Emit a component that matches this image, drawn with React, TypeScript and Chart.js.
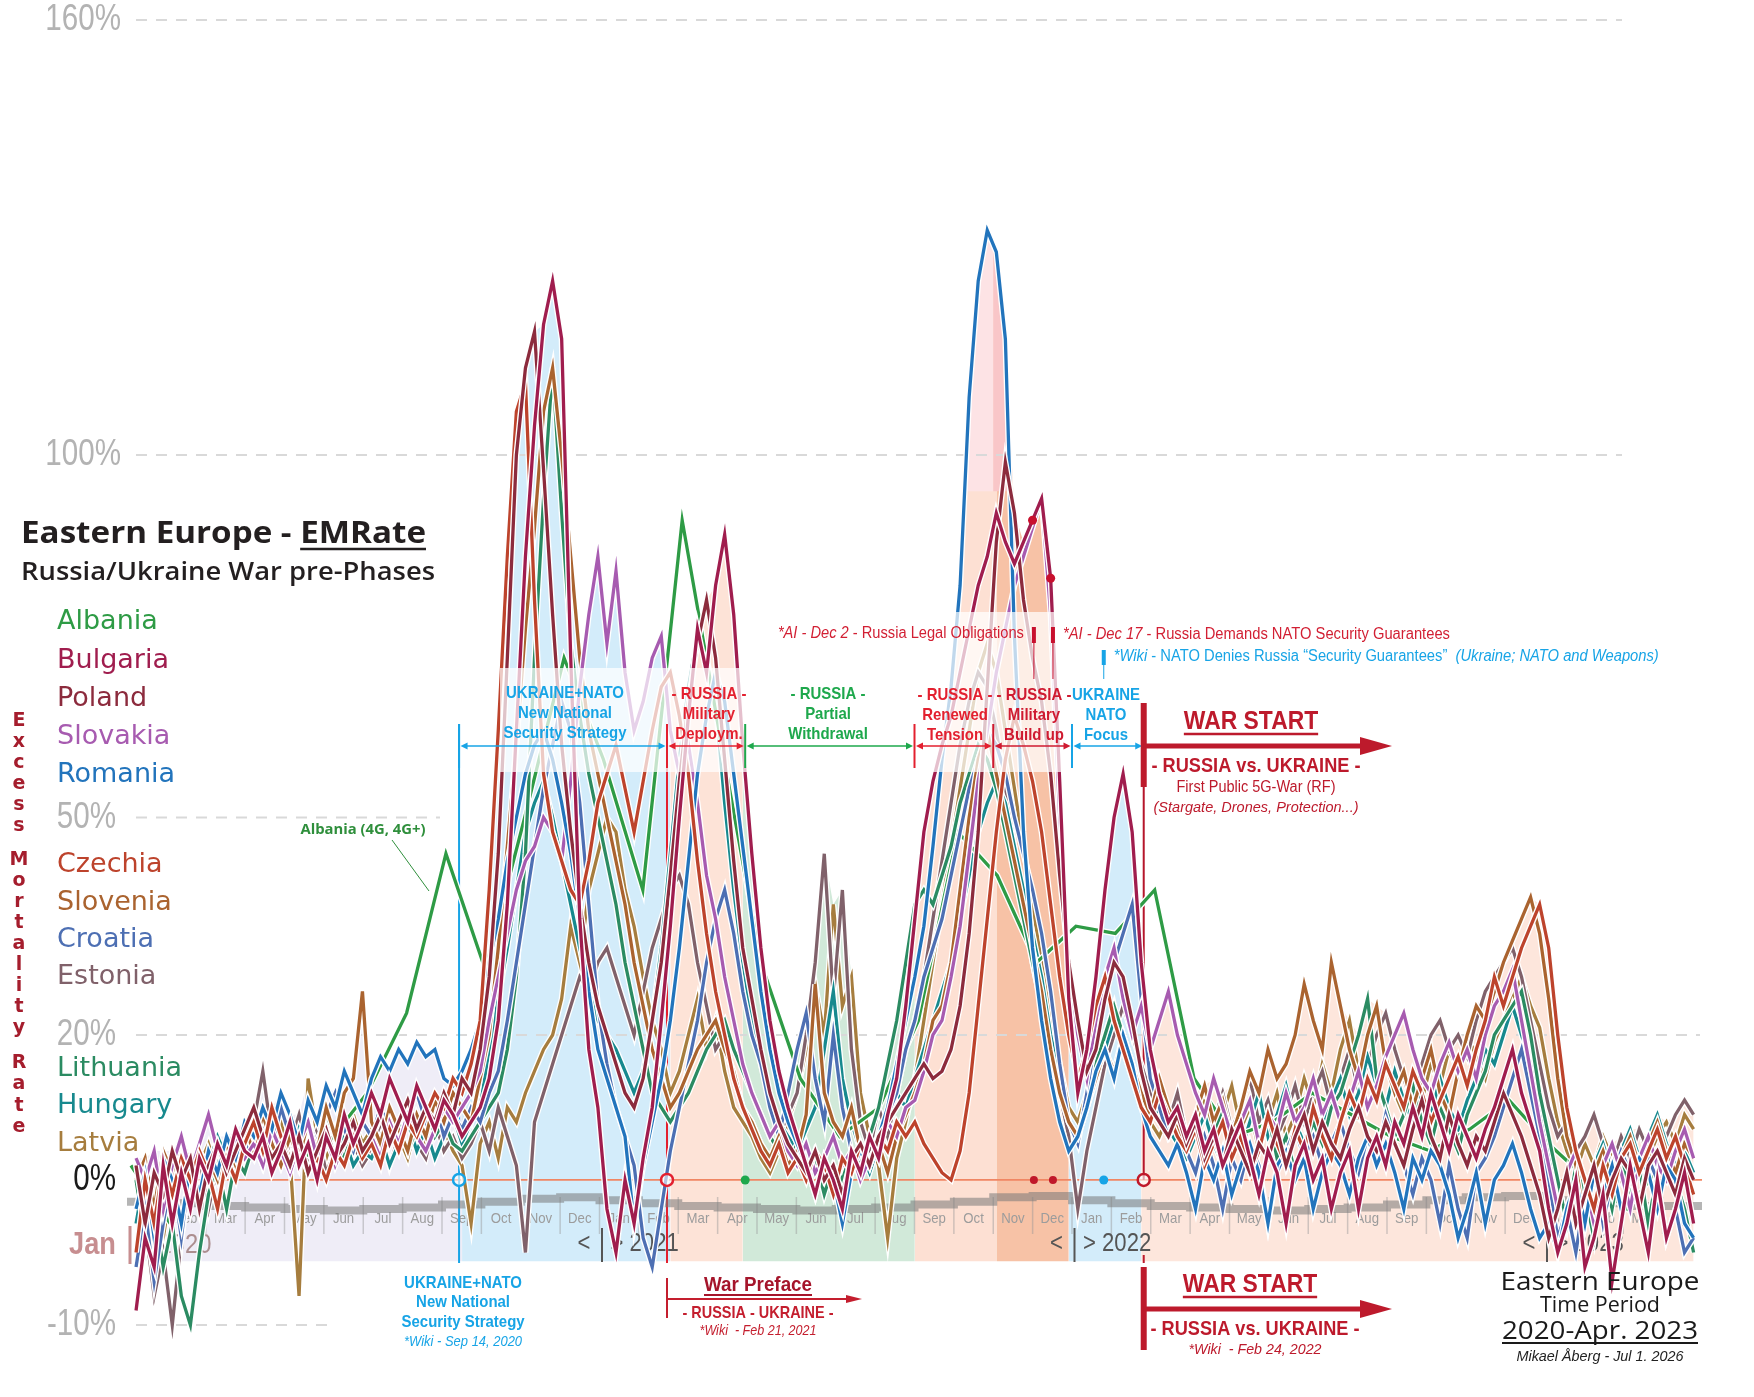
import React, { useEffect, useRef } from 'react';
import { Chart, LinearScale, registerables } from 'chart.js';

// ---------------- data ----------------
const MONTH_NAMES = ['Jan', 'Feb', 'Mar', 'Apr', 'May', 'Jun', 'Jul', 'Aug', 'Sep', 'Oct', 'Nov', 'Dec'];
const YEAR_LABELS = ['2020', '2021', '2022', '2023'];
const Y_TICKS = [-10, 0, 20, 50, 100, 160];
const COUNTRY_NAMES = ['Albania', 'Bulgaria', 'Poland', 'Slovakia', 'Romania', 'Czechia', 'Slovenia', 'Croatia', 'Estonia', 'Lithuania', 'Hungary', 'Latvia'];

// weekly excess mortality (%), first week of Jan 2020 .. end of Apr 2023 (173 weeks)
const BULGARIA = [
  -9, -4, -6, 2, -3, 1, -2, 3, 0, 5, 2, 7, 4,
  3, 6, 1, 4, 8, 2, 5, 0, 6, 3, 9, 5, 8,
  12, 9, 14, 11, 8, 13, 10, 7, 11, 9,
  6, 8, 10, 14, 22, 38, 62, 86, 104, 118, 124, 116, 72, 36, 18, 10,
  -2, -5, 0, -3, 3, 10, 22, 35, 50, 64, 76, 70, 82, 89, 78, 60,
  45, 32, 22, 15, 10, 6, 2, -1, 3, 0, -2, 4, 1, 6, 3, 9, 14, 24,
  36, 48, 55, 60, 64, 70, 76, 82, 86, 92, 88, 85, 88, 91, 94, 83, 55, 25,
  12, 18, 28, 40, 50, 56, 48, 30, 18, 12, 8, 10,
  6, 9, 4, 7, 2, 5, 8, 3, -1, 4, 1, -3, 2, 5, 0, 3, -2,
  1, 4, -2, 3, 6, 2, 8, 5, 10, 6, 12, 8, 4, 9, 6, 3, 7, 10,
  14, 18, 12, 8, 4, -2, -5, -3, 0, -6, -4, -1, -7, -3, 2, -2, -5, 0, -4, -2, 1, -3,
];
const POLAND = [
  2, -3, 1, -1, 4, 0, 3, -2, 2, 5, 1, 4, 7,
  10, 6, 3, 5, 2, 6, 1, 4, 7, 3, 5, 8, 4,
  6, 9, 5, 8, 11, 7, 10, 8, 12, 9,
  14, 12, 18, 28, 45, 72, 100, 112, 117, 98, 78, 60, 48, 38, 30, 24,
  20, 16, 12, 10, 14, 22, 30, 42, 55, 66, 74, 80, 72, 58, 44, 32,
  25, 18, 12, 8, 5, 3, 1, 4, 0, 2, -1, 3, 5, 2, 6, 8, 10, 12,
  14, 16, 14, 15, 18, 24, 34, 48, 68, 88, 99, 92, 80, 72, 66, 56, 42, 30,
  22, 15, 18, 25, 30, 28, 22, 15, 10, 8, 6, 9,
  5, 8, 3, 6, 2, 7, 4, 1, 5, 3, 7, 2, 6, 9, 4, 8, 5,
  3, 7, 10, 6, 4, 8, 5, 2, 7, 11, 6, 3, 9, 5, 2, 6, 4, 8,
  12, 9, 6, 2, -1, -4, -2, 1, -3, -1, 2, -2, 0, 3, 1, -2, 2, 4, 1, -1, 3, 0,
];
const SLOVAKIA = [
  3, 0, 4, -2, 2, 6, 1, 5, 9, 4, 2, 6, 3,
  5, 2, 7, 4, 1, 5, 8, 3, 6, 2, 5, 7, 4,
  6, 3, 8, 5, 9, 6, 4, 7, 10, 8,
  10, 12, 15, 22, 28, 34, 40, 44, 46, 50, 48, 44, 55, 68, 78, 86,
  74, 84, 70, 62, 66, 72, 75, 62, 56, 60, 52, 42, 36, 28, 22, 16,
  12, 9, 6, 8, 4, 2, 5, 1, 3, 6, 2, 4, 0, 3, 5, 8, 6, 10,
  11, 15, 20, 22, 28, 35, 45, 55, 62, 70, 76, 82, 86, 90, 94, 78, 50, 30,
  20, 14, 22, 28, 32, 25, 20, 24, 18, 22, 26, 20,
  16, 12, 9, 14, 10, 6, 8, 11, 5, 9, 7, 12, 8, 10, 14, 9, 12,
  8, 11, 15, 10, 13, 17, 20, 23, 18, 14, 12, 16, 19, 15, 18, 14, 20, 24,
  26, 29, 22, 15, 8, 2, -2, 1, 4, 0, -3, 2, 5, 1, -2, 3, 6, 2, 0, 4, 7, 3,
];
const ROMANIA = [
  -2, 1, -4, 3, 0, -3, 2, -1, 4, 1, 6, 3, 8,
  6, 10, 7, 12, 9, 5, 11, 8, 13, 10, 15, 12, 9,
  14, 17, 15, 18, 16, 19, 17, 18, 14, 13,
  15, 18, 22, 30, 36, 44, 50, 56, 60, 62, 58, 52, 45, 36, 26, 18,
  14, 10, 6, -3, 2, 8, 14, 22, 32, 44, 56, 64, 70, 66, 56, 46,
  36, 26, 18, 12, 8, 5, 2, -1, 3, 0, -3, 1, 4, 2, 6, 10, 16, 22,
  28, 35, 46, 58, 68, 82, 108, 124, 131, 128, 116, 75, 48, 32, 22, 14, 8, 4,
  6, 10, 15, 18, 14, 20, 16, 10, 6, 4, 2, 5,
  1, -2, 3, 0, 4, -1, 2, 5, 1, -3, 2, 4, 0, 3, -2, 1, 4,
  2, -1, 3, 6, 2, 5, 1, -2, 3, 0, 4, 2, -1, -4, -2, 1, -3, 0,
  2, 5, 1, -2, -4, -3, -5, -2, 0, -3, 1, -1, 2, -2, 0, 3, 1, -2, 2, 0, -3, -4,
];
const CZECHIA = [
  -5, 0, -3, 2, -1, 3, 0, 4, 1, -2, 3, 0, 5,
  8, 4, 10, 6, 2, 5, 1, 3, 0, 4, 2, 6, 3,
  5, 2, 7, 4, 8, 6, 9, 12, 10, 14,
  12, 16, 22, 40, 62, 86, 106, 110, 80, 56, 48, 44, 40, 38, 44, 52,
  56, 60, 54, 48, 55, 62, 68, 70, 64, 56, 44, 34, 26, 20, 14, 10,
  7, 4, 2, 5, 1, 3, 0, 4, 2, -1, 3, 1, 5, 2, 6, 4, 8, 6,
  8, 5, 3, 1, 0, 4, 12, 24, 36, 48, 58, 64, 60, 55, 48, 38, 28, 20,
  14, 18, 24, 28, 22, 18, 14, 10, 8, 12, 9, 6,
  4, 7, 2, 5, 8, 3, 6, 1, 4, 9, 5, 2, 7, 4, 10, 6, 3,
  8, 12, 9, 14, 11, 16, 13, 10, 15, 12, 8, 11, 14, 17, 13, 18, 22, 28,
  24, 28, 32, 35, 38, 32, 20, 10, 4, 0, -2, 2, -1, 3, 5, 1, 4, 7, 3, 6, 2, -1,
];
const SLOVENIA = [
  0, 3, -2, 4, 1, 6, 2, -1, 3, 0, 5, 2, 7,
  4, 9, 5, 2, 6, 3, 8, 4, 10, 6, 12, 14, 26,
  8, 5, 10, 7, 4, 9, 6, 11, 8, 12,
  10, 8, 14, 20, 32, 46, 60, 76, 90, 106, 112, 100, 86, 72, 62, 56,
  50, 44, 38, 30, 24, 18, 14, 10, 12, 15, 18, 20, 22, 18, 15, 10,
  8, 5, 3, 6, 2, 4, 9, 27, 12, 8, 6, 10, 4, 2, 5, 1, 6, 9,
  12, 16, 22, 24, 30, 40, 50, 58, 62, 56, 50, 44, 38, 32, 26, 18, 12, 8,
  6, 10, 14, 18, 15, 20, 16, 12, 9, 14, 10, 7,
  5, 9, 13, 8, 11, 6, 10, 15, 12, 18, 14, 16, 20, 27, 22, 18, 30,
  24, 18, 14, 20, 24, 16, 12, 15, 10, 14, 18, 12, 9, 15, 20, 24, 22, 26,
  30, 33, 36, 39, 34, 25, 14, 6, 2, -3, 1, 4, 0, 3, 6, 2, 5, 8, 4, 1, 5, 3,
];
const CROATIA = [
  -6, -2, -7, -3, 1, -4, 2, -1, 3, 0, 4, 1, 5,
  3, 7, 4, 10, 6, 2, 8, 5, 9, 12, 7, 4, 8,
  6, 10, 7, 4, 9, 12, 8, 11, 6, 9,
  7, 10, 8, 12, 15, 22, 30, 38, 46, 54, 60, 66, 62, 52, 38, 24,
  16, 10, 6, 2, -4, -6, -2, 4, 10, 16, 22, 30, 36, 40, 34, 26,
  20, 16, 10, 6, 12, 18, 23, 14, 8, 20, 10, 4, 1, 6, 3, 9, 12, 18,
  22, 28, 32, 36, 42, 48, 54, 58, 62, 60, 56, 50, 45, 40, 34, 26, 16, 8,
  5, 12, 20, 26, 30, 34, 38, 25, 14, 10, 6, 8,
  4, 1, 6, 2, -2, 3, 0, 5, 2, -3, 1, 4, 7, 3, 6, 2, 5,
  8, 4, 1, 6, 3, 9, 5, 2, -1, 3, 0, -3, 2, -2, -4, 1, 3, 6,
  10, 14, 18, 12, 6, 0, -4, -2, -5, -1, 2, -3, 0, 4, 1, -2, 3, 0, -4, -2, -5, -4,
];
const ESTONIA = [
  1, -3, -8, -5, -10, -4, 0, 3, -2, 2, 5, 1, 4,
  8, 15, 6, 2, 5, 9, 3, 7, 1, 4, 8, 5, 2,
  4, 7, 2, 6, 9, 5, 3, 8, 4, 6,
  3, 5, 8, 4, 10, 6, 2, -5, 8, 12, 16, 20, 24, 28, 26, 30,
  32, 28, 24, 20, 26, 32, 36, 40, 42, 38, 30, 24, 18, 20, 14, 10,
  8, 5, 3, 6, 9, 12, 20, 30, 45, 25, 40, 18, 8, 4, 10, 6, 12, 18,
  22, 28, 36, 44, 52, 60, 66, 70, 68, 62, 54, 46, 38, 30, 24, 18, 12, 6,
  -2, 4, 10, 16, 20, 24, 20, 16, 12, 10, 8, 12,
  6, 9, 4, 8, 12, 7, 10, 14, 8, 11, 6, 9, 13, 8, 12, 15, 10,
  14, 18, 12, 16, 20, 23, 18, 14, 10, 16, 20, 22, 18, 20, 17, 22, 26, 28,
  30, 32, 28, 22, 16, 10, 6, 8, 4, 6, 9, 5, 2, 6, 3, 7, 4, 8, 6, 9, 11, 9,
];
const LITHUANIA = [
  0, -4, -2, -6, -3, -8, -10, -5, -1, 2, -2, 3, 1,
  5, 2, 6, 3, 8, 4, 1, 5, 9, 6, 3, 7, 4,
  6, 9, 5, 8, 4, 7, 10, 6, 8, 5,
  4, 6, 8, 10, 12, 18, 28, 45, 72, 94, 112, 92, 74, 64, 56, 50,
  44, 38, 30, 24, 18, 12, 10, 8, 10, 12, 15, 18, 20, 22, 18, 15,
  12, 9, 6, 4, 2, 5, 1, 3, -1, 2, 0, 4, 2, 6, 10, 16, 22, 30,
  38, 40, 38, 42, 46, 52, 56, 60, 58, 54, 48, 42, 36, 30, 24, 18, 12, 8,
  6, 10, 16, 20, 24, 20, 16, 12, 10, 8, 6, 9,
  5, 8, 3, 6, 10, 4, 7, 2, 5, 9, 3, 6, 1, 4, 8, 5, 10,
  12, 16, 20, 25, 14, 10, 6, 9, 13, 8, 5, 10, 7, 4, 9, 12, 15, 20,
  22, 24, 26, 20, 12, 6, 0, -3, 2, -1, -4, 1, -2, 3, -1, 2, -3, 1, 4, 0, -2, -5,
];
const HUNGARY = [
  -3, 1, -2, 2, -1, 3, 0, 4, 2, 6, 3, 1, 4,
  6, 3, 8, 5, 2, 7, 4, 1, 5, 3, 6, 2, 4,
  3, 6, 2, 5, 8, 4, 7, 3, 6, 9,
  5, 8, 10, 18, 25, 32, 40, 48, 52, 55, 50, 44, 38, 32, 26, 22,
  20, 18, 15, 12, 15, 22, 32, 45, 58, 68, 75, 72, 66, 52, 40, 30,
  22, 16, 11, 8, 6, 4, 7, 10, 18, 26, 14, 8, 4, 1, 5, 8, 12, 10,
  14, 18, 22, 26, 30, 36, 42, 48, 52, 55, 52, 46, 40, 34, 28, 20, 14, 8,
  6, 10, 14, 18, 22, 20, 16, 12, 8, 10, 7, 5,
  3, 6, 9, 5, 2, 7, 4, 8, 12, 6, 9, 13, 8, 5, 10, 7, 11,
  14, 9, 12, 17, 13, 10, 15, 11, 8, 12, 9, 14, 10, 7, 11, 14, 18, 16,
  20, 24, 20, 16, 10, 4, 0, -3, 1, -2, 2, 5, 1, 4, 7, 3, 6, 9, 5, 2, 4, 1,
];
const LATVIA = [
  2, -2, 1, -4, 0, 3, -1, 2, 5, 1, 4, 7, 3,
  6, 2, 5, 8, 3, -8, 14, 6, 3, 7, 4, 9, 5,
  7, 4, 9, 6, 3, 8, 5, 10, 7, 4,
  2, -3, 5, 8, 3, 10, 8, 12, 15, 18, 20, 25, 35, 30, 40, 45,
  50, 48, 40, 35, 28, 22, 18, 12, 15, 20, 25, 18, 22, 15, 10, 8,
  6, 3, 1, 4, 8, 12, 18, 27, 20, 38, 24, 28, 12, 6, 2, -4, 3, 8,
  14, 22, 30, 38, 46, 54, 62, 70, 74, 70, 62, 54, 46, 38, 30, 22, 16, 10,
  8, 12, 16, 20, 24, 18, 14, 10, 8, 6, 9, 7,
  5, 8, 11, 6, 9, 13, 7, 10, 4, 8, 12, 6, 9, 14, 10, 16, 12,
  18, 22, 15, 10, 13, 17, 12, 9, 14, 11, 16, 13, 18, 15, 20, 17, 14, 19,
  22, 25, 28, 24, 21, 14, 8, 4, 1, 5, 2, 6, 3, 0, 4, 7, 3, 6, 8, 5, 9, 7,
];
// Albania: monthly values (Jan 2020 .. Apr 2023)
const ALBANIA = [
  2, -3, 0, 4, 2, 5, 12, 23, 45, 29, 50, 72,
  58, 40, 91, 60, 30, 14, 6, 10, 22, 48, 42, 30,
  35, 34, 40, 14, 6, 8, 12, 9, 6, 4, 7, 11,
  5, 0, -2, 3,
];
// grey baseline band (monthly steps)
const BASELINE = [
  -1.3, -1.5, -1.6, -1.8, -1.9, -2.0, -2.1, -2.0, -1.9, -1.7, -1.5, -1.3,
  -1.2, -1.4, -1.6, -1.8, -1.9, -2.0, -2.1, -2.0, -1.9, -1.7, -1.5, -1.2,
  -1.1, -1.4, -1.6, -1.8, -1.9, -2.0, -2.1, -2.0, -1.9, -1.7, -1.4, -1.2,
  -1.1, -1.4, -1.6, -1.8,
];

// event dates, in months since Jan 1 2020
const SEP14_2020 = 8 + 13 / 30;
const FEB21_2021 = 13 + 20 / 28;
const APR22_2021 = 15 + 21 / 30;
const SEP1_2021 = 20;
const NOV1_2021 = 22;
const DEC2_2021 = 23 + 1 / 31;
const DEC17_2021 = 23 + 16 / 31;
const JAN1_2022 = 24;
const JAN26_2022 = 24 + 25 / 31;
const FEB24_2022 = 25 + 23 / 28;
const PHASE_DATES = [SEP14_2020, FEB21_2021, APR22_2021, SEP1_2021, NOV1_2021, JAN1_2022, FEB24_2022];
const PHASE_FILLS = ['#efedf7', '#d3ecfa', '#fde3d7', '#d1e9d9', '#fde0d3', '#f7c2a6', '#d3ecfa', '#fde6dc'];
const DOT_WEEKS = [99, 101]; // Dec 2 & Dec 17, 2021
const PEAK_LEVEL = 95; // Romania's Oct 2021 peak tinted above this level

// ---------------- styles ----------------
const COLORS: Record<string, string> = {
  Albania: '#2e9b45', Bulgaria: '#a01d4e', Poland: '#8c2b3d', Slovakia: '#a75bb0',
  Romania: '#2274bc', Czechia: '#bd432c', Slovenia: '#aa632f', Croatia: '#4d6fb3',
  Estonia: '#80616a', Lithuania: '#2b8b62', Hungary: '#17898e', Latvia: '#a67d3e',
};
const F_SANS = "'Liberation Sans', Arial, sans-serif";
const F_OPEN = "'Open Sans', 'Noto Sans', sans-serif";
const F_DEJAVU = "'DejaVu Sans', Verdana, sans-serif";
const BLUE = '#17a4e6', RED = '#e3202f', GREEN = '#1ea84c', DRED = '#cf1a30', WAR = '#bd1a2c';
const NEG_STRETCH = 2;
const Y_MIN = -29.66;
const FILL_FLOOR = -5.6;

// ---------------- custom split y scale ----------------
class SplitScale extends LinearScale {
  getPixelForValue(value: number) {
    return super.getPixelForValue(value < 0 ? value * NEG_STRETCH : value);
  }
  getValueForPixel(pixel: number) {
    const v = super.getValueForPixel(pixel);
    return v < 0 ? v / NEG_STRETCH : v;
  }
}
(SplitScale as any).id = 'split';
(SplitScale as any).defaults = {};
Chart.register(...registerables, SplitScale as any);

// ---------------- helpers ----------------
type Part = { t: string; italic?: boolean; u?: boolean };
type TOpt = { size: number; weight?: number; family?: string; color: string; align?: 'left' | 'center' | 'right'; italic?: boolean; sx?: number; width?: number; underline?: number; uoff?: number };
function runs(ctx: CanvasRenderingContext2D, parts: Part[], x: number, y: number, o: TOpt) {
  ctx.save();
  const fontFor = (it?: boolean) => `${it ? 'italic ' : ''}${o.weight ?? 400} ${o.size}px ${o.family ?? F_SANS}`;
  const ws: number[] = [];
  let total = 0;
  for (const p of parts) {
    ctx.font = fontFor(p.italic ?? o.italic);
    const w = ctx.measureText(p.t).width;
    ws.push(w);
    total += w;
  }
  const sx = o.width ? o.width / total : o.sx ?? 1;
  const W = total * sx;
  const left = o.align === 'center' ? x - W / 2 : o.align === 'right' ? x - W : x;
  ctx.fillStyle = o.color;
  ctx.strokeStyle = o.color;
  ctx.textBaseline = 'middle';
  ctx.textAlign = 'left';
  let cx = left;
  parts.forEach((p, i) => {
    ctx.font = fontFor(p.italic ?? o.italic);
    ctx.save();
    ctx.translate(cx, y);
    ctx.scale(sx, 1);
    ctx.fillText(p.t, 0, 0);
    ctx.restore();
    if (p.u || (o.underline && parts.length === 1)) {
      ctx.lineWidth = o.underline ?? 2;
      ctx.beginPath();
      const uy = y + (o.uoff ?? o.size * 0.45);
      ctx.moveTo(cx, uy);
      ctx.lineTo(cx + ws[i] * sx, uy);
      ctx.stroke();
    }
    cx += ws[i] * sx;
  });
  ctx.restore();
  return { left, width: W };
}
const txt = (ctx: CanvasRenderingContext2D, s: string, x: number, y: number, o: TOpt) => runs(ctx, [{ t: s }], x, y, o);

function vline(ctx: CanvasRenderingContext2D, x: number, y1: number, y2: number, color: string, lw: number) {
  ctx.save();
  ctx.strokeStyle = color;
  ctx.lineWidth = lw;
  ctx.beginPath();
  ctx.moveTo(x, y1);
  ctx.lineTo(x, y2);
  ctx.stroke();
  ctx.restore();
}
function arrow(ctx: CanvasRenderingContext2D, x1: number, x2: number, y: number, color: string, lw: number, head: number, half: number, both: boolean) {
  ctx.save();
  ctx.strokeStyle = color;
  ctx.fillStyle = color;
  ctx.lineWidth = lw;
  ctx.beginPath();
  ctx.moveTo(both ? x1 + head * 0.6 : x1, y);
  ctx.lineTo(x2 - head * 0.6, y);
  ctx.stroke();
  ctx.beginPath();
  ctx.moveTo(x2, y);
  ctx.lineTo(x2 - head, y - half);
  ctx.lineTo(x2 - head, y + half);
  ctx.closePath();
  ctx.fill();
  if (both) {
    ctx.beginPath();
    ctx.moveTo(x1, y);
    ctx.lineTo(x1 + head, y - half);
    ctx.lineTo(x1 + head, y + half);
    ctx.closePath();
    ctx.fill();
  }
  ctx.restore();
}
function circle(ctx: CanvasRenderingContext2D, x: number, y: number, r: number, color: string, filled: boolean) {
  ctx.save();
  ctx.beginPath();
  ctx.arc(x, y, r, 0, Math.PI * 2);
  if (filled) {
    ctx.fillStyle = color;
    ctx.fill();
  } else {
    ctx.fillStyle = 'rgba(255,255,255,0.6)';
    ctx.fill();
    ctx.strokeStyle = color;
    ctx.lineWidth = 2.5;
    ctx.stroke();
  }
  ctx.restore();
}
const phaseFill = (m: number) => PHASE_FILLS[PHASE_DATES.filter((d) => m >= d).length];

// ---------------- drawing plugin ----------------
const decorations = {
  id: 'decorations',
  beforeDatasetsDraw(chart: any) {
    const ctx: CanvasRenderingContext2D = chart.ctx;
    const X = (m: number) => chart.scales.x.getPixelForValue(m);
    const Y = (v: number) => chart.scales.y.getPixelForValue(v);
    const right = chart.chartArea.right;
    ctx.save();
    // pink tint under Romania's Oct/Nov 2021 peak (uses the dataset's own line points)
    const roIdx = chart.data.datasets.findIndex((d: any) => d.label === 'Romania');
    const roPts = chart.getDatasetMeta(roIdx).data;
    const yCut = Y(PEAK_LEVEL);
    const tint = (x1: number, x2: number, col: string) => {
      ctx.save();
      ctx.beginPath();
      ctx.rect(x1, 0, x2 - x1, yCut);
      ctx.clip();
      ctx.beginPath();
      roPts.forEach((p: any, i: number) => (i ? ctx.lineTo(p.x, p.y) : ctx.moveTo(p.x, p.y)));
      ctx.lineTo(roPts[roPts.length - 1].x, yCut + 2);
      ctx.lineTo(roPts[0].x, yCut + 2);
      ctx.closePath();
      ctx.fillStyle = col;
      ctx.fill();
      ctx.restore();
    };
    tint(X(SEP1_2021), X(NOV1_2021), '#fde3e5');
    tint(X(NOV1_2021), X(JAN1_2022), '#f9c6c8');

    // y tick labels (positions from the split scale's own ticks)
    for (const t of chart.scales.y.ticks) {
      const big = t.value >= 100;
      txt(ctx, `${t.value}%`, big ? 121 : 116, Y(t.value), { size: 37, color: t.value === 0 ? '#1a1a1a' : '#b3b3b3', align: 'right', sx: 0.8 });
    }
    // dashed grid lines
    ctx.setLineDash([11, 9]);
    ctx.strokeStyle = '#d9d9d9';
    ctx.lineWidth = 2;
    const grid: [number, number, number][] = [[160, 136, 1622], [100, 136, 1622], [50, 136, 440], [20, 136, 1700], [-10, 136, 335]];
    for (const [v, a, b] of grid) {
      ctx.beginPath();
      ctx.moveTo(a, Y(v));
      ctx.lineTo(b, Y(v));
      ctx.stroke();
    }
    ctx.setLineDash([]);
    // 0% line
    ctx.strokeStyle = '#f08663';
    ctx.lineWidth = 1.8;
    ctx.beginPath();
    ctx.moveTo(X(0.23), Y(0));
    ctx.lineTo(right, Y(0));
    ctx.stroke();
    // month separators and labels
    for (let m = 1; m < 40; m++) vline(ctx, X(m), 1197, 1234, 'rgba(150,150,150,0.45)', 1.5);
    for (let m = 0; m < 40; m++) txt(ctx, MONTH_NAMES[m % 12], X(m + 0.5), 1219, { size: 15, color: '#9c9c9c', align: 'center', sx: 0.88 });
    // year markers
    txt(ctx, 'Jan', 69, 1245, { size: 32, weight: 700, color: '#c78e90', sx: 0.85 });
    vline(ctx, 130, 1226, 1264, '#c78e90', 3);
    txt(ctx, '> ' + YEAR_LABELS[0], 138, 1245, { size: 28, color: 'rgba(160,125,125,0.85)', sx: 0.85 });
    for (let k = 1; k < 4; k++) {
      const b = X(12 * k);
      txt(ctx, '<', b - 9, 1244, { size: 26, color: '#555', align: 'right', sx: 0.85 });
      vline(ctx, b + 2.5, 1228, 1262, '#555', 2);
      txt(ctx, '> ' + YEAR_LABELS[k], b + 11, 1244, { size: 26, color: '#555', sx: 0.85 });
    }
    // phase verticals through the plot
    vline(ctx, X(SEP14_2020), 724, 1263, BLUE, 2);
    vline(ctx, X(FEB21_2021), 724, 1263, RED, 2);
    vline(ctx, X(FEB24_2022), 787, Y(0), '#b5162b', 2);
    ctx.restore();
  },
  afterDatasetsDraw(chart: any) {
    const ctx: CanvasRenderingContext2D = chart.ctx;
    const X = (m: number) => chart.scales.x.getPixelForValue(m);
    const Y = (v: number) => chart.scales.y.getPixelForValue(v);
    ctx.save();
    // translucent veils behind phase labels
    ctx.fillStyle = 'rgba(255,255,255,0.72)';
    ctx.fillRect(500, 668, 265, 104);
    ctx.fillRect(930, 612, 140, 160);

    // phase row
    const B = [SEP14_2020, FEB21_2021, APR22_2021, SEP1_2021, NOV1_2021, JAN1_2022, FEB24_2022].map(X);
    const rowColors = [BLUE, RED, GREEN, RED, DRED, BLUE];
    for (let i = 0; i < 6; i++) {
      arrow(ctx, B[i] + 1.5, B[i + 1] - 1.5, 746, rowColors[i], 1.5, 7, 3.5, true);
      vline(ctx, B[i], 724, 768, rowColors[i], 2);
    }
    const phaseText: [number, string[], string, number][] = [
      [565, ['UKRAINE+NATO', 'New National', 'Security Strategy'], BLUE, 693],
      [709, ['- RUSSIA -', 'Military', 'Deploym.'], RED, 694],
      [828, ['- RUSSIA -', 'Partial', 'Withdrawal'], GREEN, 694],
      [955, ['- RUSSIA -', 'Renewed', 'Tension'], RED, 695],
      [1034, ['- RUSSIA -', 'Military', 'Build up'], DRED, 695],
      [1106, ['UKRAINE', 'NATO', 'Focus'], BLUE, 695],
    ];
    for (const [cx, lines, col, y0] of phaseText) {
      lines.forEach((s, i) => txt(ctx, s, cx, y0 + i * 20, { size: 17, weight: 700, color: col, align: 'center', sx: 0.88 }));
    }

    // top notes
    const xd2 = X(DEC2_2021), xd17 = X(DEC17_2021), xw = X(JAN26_2022);
    ctx.fillStyle = '#c8102e';
    ctx.fillRect(xd2 - 2, 627, 4, 16);
    ctx.fillRect(xd17 - 2, 627, 4, 16);
    vline(ctx, xd2, 643, 679, '#c8102e', 1);
    vline(ctx, xd17, 643, 679, '#c8102e', 1);
    ctx.fillStyle = BLUE;
    ctx.fillRect(xw - 2, 650, 4, 15);
    vline(ctx, xw, 665, 679, BLUE, 1);
    runs(ctx, [{ t: '*AI - Dec 2', italic: true }, { t: ' - Russia Legal Obligations' }], xd2 - 10, 634, { size: 16, color: '#d21f33', align: 'right', width: 246 });
    runs(ctx, [{ t: '*AI - Dec 17', italic: true }, { t: ' - Russia Demands NATO Security Guarantees' }], xd17 + 10, 635, { size: 16, color: '#d21f33', width: 387 });
    runs(ctx, [{ t: '*Wiki', italic: true }, { t: ' - NATO Denies Russia \u201CSecurity Guarantees\u201D  ' }, { t: '(Ukraine; NATO and Weapons)', italic: true }], xw + 10, 657, { size: 16, color: BLUE, width: 545 });

    // WAR START (top)
    const xw24 = B[6];
    ctx.fillStyle = WAR;
    ctx.fillRect(xw24 - 3, 703, 6, 84);
    arrow(ctx, xw24, 1392, 746, WAR, 5, 32, 9, false);
    txt(ctx, 'WAR START', 1251, 722, { size: 26, weight: 700, color: WAR, align: 'center', sx: 0.88, underline: 2.5, uoff: 12 });
    txt(ctx, '- RUSSIA vs. UKRAINE -', 1256, 766, { size: 21, weight: 700, color: WAR, align: 'center', width: 209 });
    txt(ctx, 'First Public 5G-War (RF)', 1256, 788, { size: 16, color: WAR, align: 'center', width: 159 });
    txt(ctx, '(Stargate, Drones, Protection...)', 1256, 808, { size: 15, italic: true, color: WAR, align: 'center', width: 205 });

    // markers on the 0% line
    const y0 = Y(0);
    circle(ctx, X(SEP14_2020), y0, 6, BLUE, false);
    circle(ctx, X(FEB21_2021), y0, 6, RED, false);
    circle(ctx, X(APR22_2021), y0, 4.5, GREEN, true);
    circle(ctx, xd2, y0, 4, '#c0182a', true);
    circle(ctx, xd17, y0, 4, '#c0182a', true);
    circle(ctx, xw, y0, 4.5, BLUE, true);
    circle(ctx, xw24, y0, 6, '#c0182a', false);

    // bottom annotations: Ukraine+NATO
    const bx = X(SEP14_2020) + 4;
    ['UKRAINE+NATO', 'New National', 'Security Strategy'].forEach((s, i) =>
      txt(ctx, s, bx, 1283 + i * 19.5, { size: 17, weight: 700, color: BLUE, align: 'center', sx: 0.88 }));
    txt(ctx, '*Wiki - Sep 14, 2020', bx, 1342, { size: 14, italic: true, color: BLUE, align: 'center', width: 118 });

    // War preface
    const xf = X(FEB21_2021);
    vline(ctx, xf, 1278, 1318, '#c41e2e', 2);
    arrow(ctx, xf, 862, 1299, '#c41e2e', 2, 16, 4, false);
    txt(ctx, 'War Preface', 758, 1285, { size: 20, weight: 700, color: '#a5152b', align: 'center', width: 108, underline: 2, uoff: 10 });
    txt(ctx, '- RUSSIA - UKRAINE -', 758, 1313, { size: 17, weight: 700, color: '#c41e2e', align: 'center', width: 151 });
    txt(ctx, '*Wiki  - Feb 21, 2021', 758, 1331, { size: 14, italic: true, color: '#c41e2e', align: 'center', width: 117 });

    // WAR START (bottom)
    vline(ctx, xw24, 1255, 1263, WAR, 2);
    ctx.fillStyle = WAR;
    ctx.fillRect(xw24 - 3, 1267, 6, 83);
    arrow(ctx, xw24, 1392, 1309, WAR, 5, 32, 9, false);
    txt(ctx, 'WAR START', 1250, 1285, { size: 26, weight: 700, color: WAR, align: 'center', sx: 0.88, underline: 2.5, uoff: 12 });
    txt(ctx, '- RUSSIA vs. UKRAINE -', 1255, 1329, { size: 21, weight: 700, color: WAR, align: 'center', width: 209 });
    txt(ctx, '*Wiki  - Feb 24, 2022', 1255, 1350, { size: 15, italic: true, color: WAR, align: 'center', width: 133 });

    // credits bottom right
    txt(ctx, 'Eastern Europe', 1600, 1283, { size: 26, family: F_OPEN, color: '#1a1a1a', align: 'center', width: 199 });
    txt(ctx, 'Time Period', 1600, 1306, { size: 21, family: F_OPEN, color: '#1a1a1a', align: 'center', width: 120 });
    txt(ctx, '2020-Apr. 2023', 1600, 1332, { size: 26, family: F_OPEN, color: '#1a1a1a', align: 'center', width: 196, underline: 2, uoff: 11 });
    txt(ctx, 'Mikael \u00C5berg - Jul 1. 2026', 1600, 1357, { size: 15, italic: true, color: '#222', align: 'center', width: 167 });

    // title block
    runs(ctx, [{ t: 'Eastern Europe - ' }, { t: 'EMRate', u: true }], 21, 534, { size: 31, weight: 700, family: F_OPEN, color: '#231f20', width: 405, underline: 2.5, uoff: 15 });
    txt(ctx, 'Russia/Ukraine War pre-Phases', 21, 573, { size: 26, weight: 600, family: F_OPEN, color: '#231f20', width: 414 });

    // legend
    const LEGEND_Y = [622, 661, 699, 737, 775, 865, 903, 940, 977, 1069, 1106, 1144];
    COUNTRY_NAMES.forEach((n, i) => txt(ctx, n, 57, LEGEND_Y[i], { size: 27, family: F_DEJAVU, color: COLORS[n] }));

    // vertical axis title
    const words: [string, number, number][] = [['Excess', 721, 21], ['Mortality', 860, 21], ['Rate', 1063, 21.5]];
    for (const [w, ys, step] of words) {
      w.split('').forEach((ch, i) => txt(ctx, ch, 19, ys + i * step, { size: 19, weight: 700, family: F_DEJAVU, color: '#a51d2d', align: 'center' }));
    }

    // Albania note
    txt(ctx, 'Albania (4G, 4G+)', 363, 830, { size: 14, weight: 700, family: F_OPEN, color: '#2f8f3c', align: 'center', width: 125 });
    ctx.strokeStyle = '#2f8f3c';
    ctx.lineWidth = 1;
    ctx.beginPath();
    ctx.moveTo(392, 840);
    ctx.lineTo(429, 891);
    ctx.stroke();
    ctx.restore();
  },
};

// ---------------- chart config ----------------
const weekX = (i: number) => (7 + 7 * i) / 30.4375;
const WEEKLY: [string, number[]][] = [
  ['Bulgaria', BULGARIA], ['Poland', POLAND], ['Czechia', CZECHIA], ['Romania', ROMANIA],
  ['Slovakia', SLOVAKIA], ['Slovenia', SLOVENIA], ['Croatia', CROATIA], ['Lithuania', LITHUANIA],
  ['Hungary', HUNGARY], ['Estonia', ESTONIA], ['Latvia', LATVIA],
];

function buildDatasets() {
  const ds: any[] = [];
  const seriesList: [string, { x: number; y: number }[]][] = WEEKLY.map(([n, arr]) => [n, arr.map((v, i) => ({ x: weekX(i), y: v }))]);
  seriesList.splice(8, 0, ['Albania', ALBANIA.map((v, m) => ({ x: m + 0.1, y: v }))]);
  seriesList.forEach(([name, pts], k) => {
    ds.push({
      label: name + '-outline', data: pts, borderColor: '#ffffff', borderWidth: 6, pointRadius: 0, fill: false, order: 2 * k + 1,
    });
    ds.push({
      label: name, data: pts, borderColor: COLORS[name], borderWidth: 3.3, order: 2 * k, fill: false,
      pointRadius: name === 'Bulgaria' ? (c: any) => (DOT_WEEKS.includes(c.dataIndex) ? 4.5 : 0) : 0,
      pointBackgroundColor: '#c8102e', pointBorderWidth: 0,
    });
  });
  const env = BULGARIA.map((_, i) => ({ x: weekX(i), y: Math.max(0, ...WEEKLY.map(([, a]) => a[i])) }));
  ds.push({
    label: 'envelope', data: env, borderColor: 'rgba(0,0,0,0)', borderWidth: 0, pointRadius: 0,
    backgroundColor: PHASE_FILLS[0], fill: { value: FILL_FLOOR }, order: 1000,
    segment: { backgroundColor: (c: any) => phaseFill((c.p0.parsed.x + c.p1.parsed.x) / 2) },
  });
  const base = BASELINE.map((v, m) => ({ x: m, y: v }));
  base.push({ x: 40, y: BASELINE[BASELINE.length - 1] });
  ds.push({
    label: 'baseline', data: base, borderColor: 'rgba(120,120,120,0.55)', borderWidth: 8, pointRadius: 0,
    stepped: 'after', fill: false, order: 900,
  });
  return ds;
}

export default function App() {
  const ref = useRef<HTMLCanvasElement>(null);
  useEffect(() => {
    const chart = new Chart(ref.current as HTMLCanvasElement, {
      type: 'line',
      data: { datasets: buildDatasets() },
      options: {
        responsive: false,
        animation: false,
        events: [],
        layout: { padding: { left: 0, right: 52, top: 20, bottom: 2 } },
        elements: { line: { tension: 0 }, point: { radius: 0 } },
        plugins: {
          legend: { display: false },
          tooltip: { enabled: false },
          filler: { drawTime: 'beforeDatasetsDraw', propagate: false },
        },
        scales: {
          x: { type: 'linear', min: 0, max: 40, display: false },
          y: {
            type: 'split',
            min: Y_MIN,
            max: 160,
            afterBuildTicks: (s: any) => { s.ticks = Y_TICKS.map((v) => ({ value: v })); },
            afterFit: (s: any) => { s.width = 127; s.paddingTop = 0; s.paddingBottom = 0; },
            grid: { display: false, drawTicks: false },
            border: { display: false },
            ticks: { display: false, autoSkip: false },
          },
        } as any,
      },
      plugins: [decorations as any],
    });
    return () => chart.destroy();
  }, []);
  return (
    <div style={{ position: 'fixed', left: 0, top: 0, width: 1754, height: 1397, background: '#fff' }}>
      <canvas ref={ref} width={1754} height={1397} style={{ display: 'block', width: 1754, height: 1397 }} />
    </div>
  );
}
